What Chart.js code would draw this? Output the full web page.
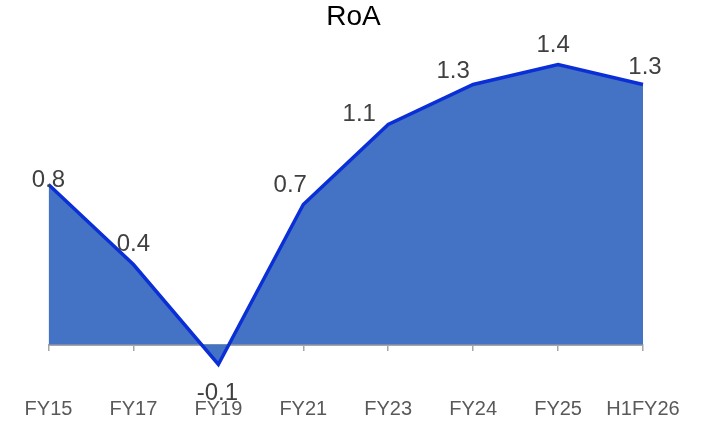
<!DOCTYPE html>
<html>
<head>
<meta charset="utf-8">
<script src="https://cdn.jsdelivr.net/npm/chart.js@4"></script>
<style>
  html, body { margin: 0; padding: 0; background: #fff; }
  #wrap { width: 702px; height: 421px; }
</style>
</head>
<body>
<div id="wrap"><canvas id="roaChart"></canvas></div>
<script>
const periods = ["FY15", "FY17", "FY19", "FY21", "FY23", "FY24", "FY25", "H1FY26"];
const roaValues = [0.8, 0.4, -0.1, 0.7, 1.1, 1.3, 1.4, 1.3];
// label nudges (px) relative to each point, as placed in the original
const labelDx = [0, 0, -1, -13, -29, -20, -5, 2];
const labelDy = [-4, -20, 29, -19, -10, -13, -19, -17];

const FONT = "'Liberation Sans', Arial, sans-serif";

// value labels next to the points
const valueLabels = {
  id: "valueLabels",
  afterDatasetsDraw(chart) {
    const ctx = chart.ctx;
    const meta = chart.getDatasetMeta(0);
    ctx.save();
    ctx.font = "24px " + FONT;
    ctx.fillStyle = "#404040";
    ctx.textAlign = "center";
    ctx.textBaseline = "middle";
    meta.data.forEach((pt, i) => {
      ctx.fillText(roaValues[i].toFixed(1), pt.x + labelDx[i], pt.y + labelDy[i]);
    });
    ctx.restore();
  }
};

new Chart(document.getElementById("roaChart"), {
  type: "line",
  data: {
    labels: periods,
    datasets: [{
      label: "RoA",
      data: roaValues,
      fill: "origin",
      backgroundColor: "#4472C4",
      borderColor: "#0A2FD6",
      borderWidth: 3.5,
      pointRadius: 0,
      tension: 0
    }]
  },
  options: {
    responsive: true,
    maintainAspectRatio: false,
    animation: false,
    layout: { padding: { left: 48.5, right: 59, top: 0, bottom: 0 } },
    plugins: {
      legend: { display: false },
      tooltip: { enabled: false },
      title: {
        display: true,
        text: "  RoA",
        color: "#000",
        font: { family: FONT, size: 28, weight: "normal" },
        padding: { top: 0.5, bottom: 10.4 }
      }
    },
    scales: {
      // category labels along the bottom
      x: {
        type: "category",
        position: "bottom",
        offset: false,
        border: { display: false },
        grid: { display: false, drawTicks: false },
        ticks: {
          color: "#595959",
          padding: 6.2,
          maxRotation: 0,
          autoSkip: false,
          font: { family: FONT, size: 20, lineHeight: 0.9 }
        },
        afterFit(scale) { scale.height = 26.5; }
      },
      // axis line with tick marks sitting on zero
      xZero: {
        type: "category",
        axis: "x",
        labels: periods,
        position: { y: 0 },
        offset: false,
        border: { display: true, color: "#a6a6a6", width: 2 },
        grid: { display: true, drawOnChartArea: false, drawTicks: true, tickLength: 5, color: "#a6a6a6", lineWidth: 1.5 },
        ticks: { display: false }
      },
      y: {
        display: false,
        min: -0.25,
        max: 1.5
      }
    }
  },
  plugins: [valueLabels]
});
</script>
</body>
</html>
